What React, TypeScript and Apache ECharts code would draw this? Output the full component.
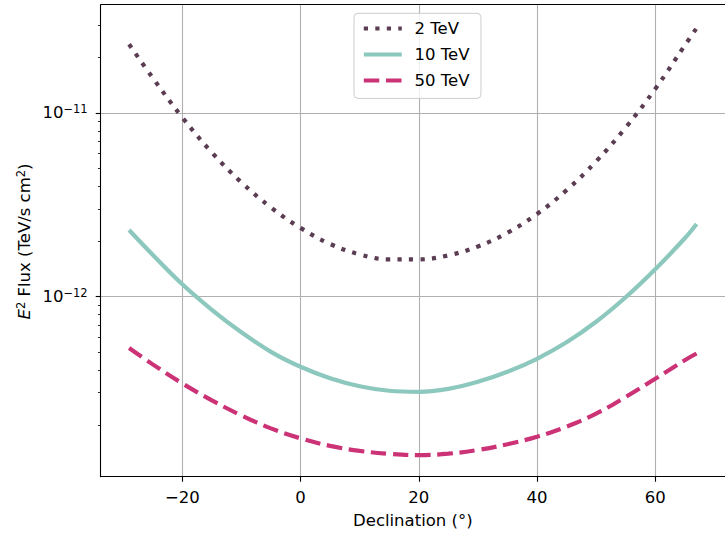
import React, { useEffect, useRef } from 'react';
import * as echarts from 'echarts';

const declination = [-29, -25, -20, -15, -10, -5, 0, 5, 10, 15, 20, 25, 30, 35, 40, 45, 50, 55, 60, 65, 67];
const flux2TeV = [2.366e-11, 1.553e-11, 9.46e-12, 6.1e-12, 4.19e-12, 3.06e-12, 2.368e-12, 1.938e-12, 1.699e-12, 1.596e-12, 1.596e-12, 1.679e-12, 1.876e-12, 2.228e-12, 2.819e-12, 3.8e-12, 5.45e-12, 8.33e-12, 1.352e-11, 2.333e-11, 2.9e-11];
const flux10TeV = [2.307e-12, 1.69e-12, 1.168e-12, 8.487e-13, 6.4e-13, 5.01e-13, 4.153e-13, 3.596e-13, 3.252e-13, 3.074e-13, 3.035e-13, 3.151e-13, 3.44e-13, 3.901e-13, 4.592e-13, 5.646e-13, 7.3e-13, 9.925e-13, 1.4095e-12, 2.079e-12, 2.487e-12];
const flux50TeV = [5.257e-13, 4.28e-13, 3.373e-13, 2.726e-13, 2.258e-13, 1.919e-13, 1.693e-13, 1.541e-13, 1.447e-13, 1.394e-13, 1.372e-13, 1.397e-13, 1.464e-13, 1.574e-13, 1.729e-13, 1.96e-13, 2.307e-13, 2.844e-13, 3.573e-13, 4.511e-13, 4.907e-13];

const seriesNames = ['2 TeV', '10 TeV', '50 TeV'];
const xTickValues = [-20, 0, 20, 40, 60];
const yMajorTicks = [1e-12, 1e-11];
const yMinorTicks = [2e-13, 3e-13, 4e-13, 5e-13, 6e-13, 7e-13, 8e-13, 9e-13, 2e-12, 3e-12, 4e-12, 5e-12, 6e-12, 7e-12, 8e-12, 9e-12, 2e-11, 3e-11];

const FONT = 'DejaVu Sans';
const X_MIN = -33.8;
const X_MAX = 71.8;
const Y_MIN = 1.047e-13;
const Y_MAX = 3.886e-11;

const zip = (xs: number[], ys: number[]) => xs.map((x, i) => [x, ys[i]]);

export default function App() {
  const ref = useRef<HTMLDivElement>(null);
  useEffect(() => {
    if (!ref.current) return;
    const chart = echarts.init(ref.current, undefined, { renderer: 'svg' });
    const axisLineStyle = { color: '#000', width: 1.1 };
    const gridLineStyle = { color: '#b0b0b0', width: 1.1 };
    const option: any = {
      animation: false,
      backgroundColor: '#fff',
      grid: { left: 100.7, top: 4.7, width: 633.8, height: 472, containLabel: false },
      legend: {
        orient: 'vertical',
        left: 354,
        top: 13.3,
        padding: [6.7, 11.5, 9.4, 7.7],
        itemWidth: 38,
        itemHeight: 14,
        itemGap: 9,
        backgroundColor: 'rgba(255,255,255,0.8)',
        borderColor: '#cccccc',
        borderWidth: 1,
        borderRadius: 4,
        selectedMode: false,
        data: seriesNames,
        itemStyle: { opacity: 0 },
        lineStyle: { width: 4.2 },
        textStyle: { fontFamily: FONT, fontSize: 16.5, color: '#000', padding: [0, 0, 0, 7.7] },
      },
      xAxis: [
        {
          type: 'value',
          min: X_MIN,
          max: X_MAX,
          position: 'bottom',
          axisLine: { show: true, onZero: false, lineStyle: axisLineStyle },
          axisTick: { show: true, length: 5, lineStyle: axisLineStyle, customValues: xTickValues },
          axisLabel: {
            customValues: xTickValues,
            margin: 12,
            fontFamily: FONT,
            fontSize: 16.5,
            color: '#000',
            formatter: (v: number) => (v < 0 ? '\u2212' + Math.abs(v) : String(v)),
          },
          splitLine: { show: true, lineStyle: gridLineStyle },
          name: 'Declination (°)',
          nameLocation: 'middle',
          nameGap: 35,
          nameTextStyle: { fontFamily: FONT, fontSize: 16.5, color: '#000' },
        },
        {
          type: 'value',
          min: X_MIN,
          max: X_MAX,
          position: 'top',
          axisLine: { show: true, onZero: false, lineStyle: axisLineStyle },
          axisTick: { show: false },
          axisLabel: { show: false },
          splitLine: { show: false },
        },
      ],
      yAxis: [
        {
          type: 'log',
          logBase: 10,
          min: Y_MIN,
          max: Y_MAX,
          position: 'left',
          axisLine: { show: true, onZero: false, lineStyle: axisLineStyle },
          axisTick: { show: true, length: 5, lineStyle: axisLineStyle, customValues: yMajorTicks },
          axisLabel: {
            customValues: yMajorTicks,
            margin: 13,
            fontFamily: FONT,
            fontSize: 16.5,
            color: '#000',
            formatter: (v: number) => `{b|10}{s|\u2212${-Math.round(Math.log10(v))}}`,
            rich: {
              b: { fontFamily: FONT, fontSize: 16.5, lineHeight: 20, color: '#000' },
              s: { fontFamily: FONT, fontSize: 11.5, lineHeight: 12, verticalAlign: 'top', color: '#000' },
            },
          },
          splitLine: { show: true, lineStyle: gridLineStyle },
        },
        {
          type: 'log',
          logBase: 10,
          min: Y_MIN,
          max: Y_MAX,
          position: 'left',
          offset: 0,
          axisLine: { show: false, onZero: false },
          axisTick: { show: true, length: 2.8, lineStyle: { color: '#000', width: 0.8 }, customValues: yMinorTicks },
          axisLabel: { show: false },
          splitLine: { show: false },
        },
      ],
      graphic: [
        {
          type: 'text',
          x: 24.5,
          y: 241.5,
          rotation: Math.PI / 2,
          style: {
            text: '{i|E}{s|2}{n| Flux (TeV/s cm}{s|2}{n|)}',
            align: 'center',
            verticalAlign: 'middle',
            fill: '#000',
            fontFamily: FONT,
            fontSize: 16.5,
            rich: {
              i: { fontFamily: FONT, fontSize: 16.5, fontStyle: 'italic', lineHeight: 20, fill: '#000' },
              n: { fontFamily: FONT, fontSize: 16.5, lineHeight: 20, fill: '#000' },
              s: { fontFamily: FONT, fontSize: 11.5, lineHeight: 12, verticalAlign: 'top', fill: '#000' },
            },
          },
        },
      ],
      series: [
        {
          name: seriesNames[0],
          type: 'line',
          data: zip(declination, flux2TeV),
          showSymbol: false,
          symbol: 'none',
          smooth: 0.4,
          itemStyle: { color: '#5b3d53' },
          lineStyle: { color: '#5b3d53', width: 4.2, type: [4.2, 7.3], cap: 'butt' },
        },
        {
          name: seriesNames[1],
          type: 'line',
          data: zip(declination, flux10TeV),
          showSymbol: false,
          symbol: 'none',
          smooth: 0.4,
          itemStyle: { color: '#8cc8bd' },
          lineStyle: { color: '#8cc8bd', width: 4.2, type: 'solid' },
        },
        {
          name: seriesNames[2],
          type: 'line',
          data: zip(declination, flux50TeV),
          showSymbol: false,
          symbol: 'none',
          smooth: 0.4,
          itemStyle: { color: '#cc3377' },
          lineStyle: { color: '#cc3377', width: 4.2, type: [15.5, 6.7], cap: 'butt' },
        },
      ],
    };
    chart.setOption(option);
    return () => chart.dispose();
  }, []);
  return <div ref={ref} style={{ width: 725, height: 536, position: 'absolute', left: 0, top: 0 }} />;
}
